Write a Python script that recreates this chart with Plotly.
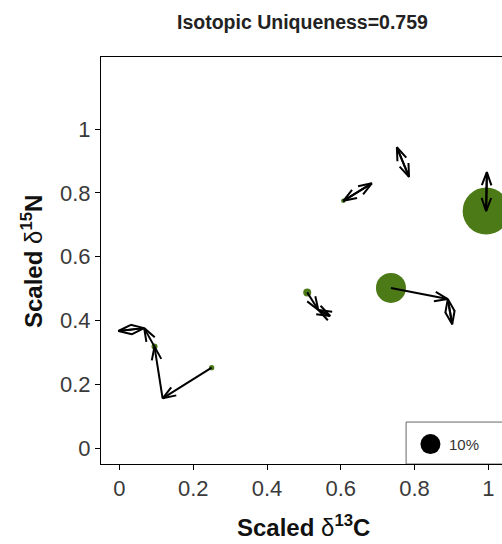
import math
import plotly.graph_objects as go

# Scaled isotopic positions of the species in the community
species = ["sp1", "sp2", "sp3", "sp4", "sp5", "sp6", "sp7", "sp8", "sp9",
           "sp10", "sp11", "sp12", "sp13", "sp14", "sp15", "sp16", "sp17"]
d13C = [0.250, 0.117, 0.095, -0.003, 0.067, 0.509, 0.539, 0.571, 0.736,
        0.890, 0.902, 0.607, 0.684, 0.752, 0.785, 0.994, 0.996]
d15N = [0.252, 0.156, 0.318, 0.367, 0.376, 0.488, 0.433, 0.414, 0.502,
        0.467, 0.388, 0.775, 0.830, 0.943, 0.850, 0.743, 0.865]
# relative abundance (%)
abundance = [0.7, 0.0, 0.9, 0.0, 0.0, 1.6, 0.0, 0.0, 22.5,
             0.0, 0.0, 0.5, 0.0, 0.0, 0.0, 55.2, 0.0]
# index of each species' nearest neighbour
nearest = [1, 2, 4, 4, 3, 6, 7, 6, 9, 10, 9, 12, 11, 14, 13, 16, 15]

uniqueness = 0.759
legend_value = 10.0
x_ticks = [0, 0.2, 0.4, 0.6, 0.8, 1]
y_ticks = [0, 0.2, 0.4, 0.6, 0.8, 1]

GREEN = "#4b7a17"
FONT = "Liberation Sans, Arial, sans-serif"

W, H = 502, 544
ML, MR, MT, MB = 101, 0, 57, 80
X0, X1 = -0.05, 1.037
Y0, Y1 = -0.05, 1.226
sx = (W - ML - MR) / (X1 - X0)   # pixels per data unit
sy = (H - MT - MB) / (Y1 - Y0)

REF_DIAM = 20.0  # pixel diameter of a 10 % abundance symbol


def diameter(w):
    return REF_DIAM * math.sqrt(w / 10.0) if w > 0 else 0


# open arrow heads, sized in pixels
HEAD = 14.0
ANG = math.radians(20)

ax, ay = [], []
for i, j in enumerate(nearest):
    xa, ya = d13C[i], d15N[i]
    xb, yb = d13C[j], d15N[j]
    ax += [xa, xb, None]
    ay += [ya, yb, None]
    dx, dy = (xa - xb) * sx, (ya - yb) * sy
    n = math.hypot(dx, dy)
    ux, uy = dx / n, dy / n
    arms = []
    for a in (ANG, -ANG):
        c, s = math.cos(a), math.sin(a)
        hx, hy = ux * c - uy * s, ux * s + uy * c
        arms.append((xb + HEAD * hx / sx, yb + HEAD * hy / sy))
    ax += [arms[0][0], xb, arms[1][0], None]
    ay += [arms[0][1], yb, arms[1][1], None]

fig = go.Figure()

fig.add_trace(go.Scatter(
    x=d13C, y=d15N, mode="markers", text=species,
    marker=dict(size=[diameter(w) for w in abundance], color=GREEN,
                opacity=1, line=dict(width=0)),
    hoverinfo="text", showlegend=False,
))

fig.add_trace(go.Scatter(
    x=ax, y=ay, mode="lines",
    line=dict(color="black", width=2),
    hoverinfo="skip", showlegend=False,
))

# abundance key in the lower right corner
key_x, key_y = 0.843, 0.0125
fig.add_shape(type="rect", xref="x", yref="y",
              x0=0.777, x1=X1 + 0.05, y0=Y0, y1=0.0815,
              line=dict(color="#666666", width=1), fillcolor="white",
              layer="below")
fig.add_trace(go.Scatter(
    x=[key_x], y=[key_y], mode="markers",
    marker=dict(size=diameter(legend_value), color="black", opacity=1,
                line=dict(width=0)),
    hoverinfo="skip", showlegend=False,
))
fig.add_annotation(x=0.887, y=key_y, xref="x", yref="y",
                   text=f"{legend_value:.0f}%", showarrow=False,
                   xanchor="left", yanchor="middle",
                   font=dict(family=FONT, size=15, color="#333333"))

axis_common = dict(
    showgrid=False, zeroline=False, showline=True, linecolor="black",
    linewidth=1, ticks="outside", ticklen=5, tickcolor="black",
    tickfont=dict(family=FONT, size=22, color="#3a3a3a"),
)

fig.update_layout(
    width=W, height=H,
    margin=dict(l=ML, r=MR, t=MT, b=MB),
    plot_bgcolor="white", paper_bgcolor="white",
    xaxis=dict(range=[X0, X1], tickvals=x_ticks,
               ticktext=[f"{v:g}" for v in x_ticks], mirror=True,
               **axis_common),
    yaxis=dict(range=[Y0, Y1], tickvals=y_ticks,
               ticktext=[f"{v:g}" for v in y_ticks], mirror=False,
               **axis_common),
    font=dict(family=FONT),
)

fig.add_annotation(xref="paper", yref="paper", x=(302.5 - ML) / (W - ML - MR),
                   y=1 + (MT - 22) / (H - MT - MB),
                   text=f"<b>Isotopic Uniqueness={uniqueness}</b>",
                   showarrow=False, xanchor="center", yanchor="middle",
                   font=dict(family=FONT, size=19.5, color="#222222"))

fig.add_annotation(xref="paper", yref="paper", x=(303.7 - ML) / (W - ML - MR),
                   y=-(526 - (H - MB)) / (H - MT - MB),
                   text="<b>Scaled </b>δ<sup><b>13</b></sup><b>C</b>",
                   showarrow=False, xanchor="center", yanchor="middle",
                   font=dict(family=FONT, size=24, color="#111111"))

fig.add_annotation(xref="paper", yref="paper", x=-(ML - 32) / (W - ML - MR),
                   y=(H - MB - 262) / (H - MT - MB),
                   text="<b>Scaled </b>δ<sup><b>15</b></sup><b>N</b>",
                   textangle=-90,
                   showarrow=False, xanchor="center", yanchor="middle",
                   font=dict(family=FONT, size=24, color="#111111"))

fig.write_html("out.html")
